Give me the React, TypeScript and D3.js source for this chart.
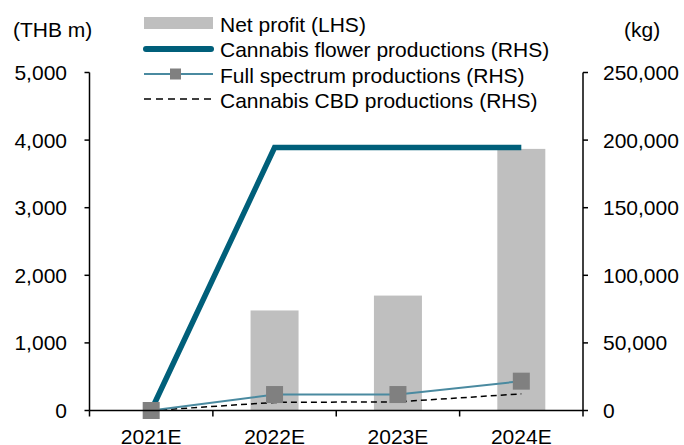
import * as d3 from 'd3';

const years = ['2021E', '2022E', '2023E', '2024E'];
const netProfit = [0, 1480, 1700, 3870];
const flower = [0, 194500, 194500, 194500];
const fullSpectrum = [0, 11800, 11800, 21700];
const cbd = [0, 6000, 6400, 12300];
const leftTicks = [0, 1000, 2000, 3000, 4000, 5000];
const rightTicks = [0, 50000, 100000, 150000, 200000, 250000];

const width = 684;
const height = 445;
const marginLeft = 89.5;
const marginRight = 101;
const marginTop = 72.5;
const marginBottom = 34.5;

const font = 'Liberation Sans, Arial, sans-serif';
const fmt = d3.format(',');

export default function App() {
  const x = d3
    .scaleBand<string>()
    .domain(years)
    .range([marginLeft, width - marginRight]);
  const yL = d3.scaleLinear([0, 5000], [height - marginBottom, marginTop]);
  const yR = d3.scaleLinear([0, 250000], [height - marginBottom, marginTop]);
  const cx = (d: string) => (x(d) ?? 0) + x.bandwidth() / 2;
  const barW = 48;

  const line = d3
    .line<number>()
    .x((_, i) => cx(years[i]))
    .y((d) => yR(d));

  const y0 = height - marginBottom;
  const xR = width - marginRight;

  return (
    <svg
      width={width}
      height={height}
      style={{ position: 'absolute', left: 0, top: 0, background: '#fff' }}
      fontFamily={font}
      fontSize={21}
      fill='#000'
    >
      {/* bars */}
      {netProfit.map((v, i) => (
        <rect
          key={i}
          x={cx(years[i]) - barW / 2}
          y={yL(v)}
          width={barW}
          height={y0 - yL(v)}
          fill='#bfbfbf'
        />
      ))}

      {/* lines */}
      <path d={line(flower) ?? ''} fill='none' stroke='#005f7a' strokeWidth={5.5} />
      <path
        d={line(cbd) ?? ''}
        fill='none'
        stroke='#000'
        strokeWidth={1.5}
        strokeDasharray='6,4'
      />
      <path
        d={line(fullSpectrum) ?? ''}
        fill='none'
        stroke='#4a8aa0'
        strokeWidth={2}
      />
      {fullSpectrum.map((v, i) => (
        <rect
          key={i}
          x={cx(years[i]) - 8.5}
          y={yR(v) - 8.5}
          width={17}
          height={17}
          fill='#808080'
        />
      ))}

      {/* axes */}
      <g stroke='#000' strokeWidth={1.5}>
        <line x1={marginLeft} x2={marginLeft} y1={marginTop} y2={y0} />
        <line x1={xR} x2={xR} y1={marginTop} y2={y0 + 6} />
        <line x1={marginLeft} x2={xR} y1={y0} y2={y0} />
        {leftTicks.map((t) => (
          <line key={t} x1={marginLeft - 5} x2={marginLeft} y1={yL(t)} y2={yL(t)} />
        ))}
        {rightTicks.map((t) => (
          <line key={t} x1={xR} x2={xR + 5} y1={yR(t)} y2={yR(t)} />
        ))}
        {years.map((d) => (
          <line key={d} x1={x(d)} x2={x(d)} y1={y0} y2={y0 + 6} />
        ))}
      </g>
      {leftTicks.map((t) => (
        <text key={t} x={67} y={yL(t)} dy='0.36em' textAnchor='end'>
          {fmt(t)}
        </text>
      ))}
      {rightTicks.map((t) => (
        <text key={t} x={603} y={yR(t)} dy='0.36em'>
          {fmt(t)}
        </text>
      ))}
      {years.map((d) => (
        <text key={d} x={cx(d)} y={444} textAnchor='middle'>
          {d}
        </text>
      ))}
      <text x={13} y={37}>(THB m)</text>
      <text x={624} y={37}>(kg)</text>

      {/* legend */}
      <g>
        <rect x={144} y={17} width={69} height={12} fill='#bfbfbf' />
        <text x={220} y={32}>Net profit (LHS)</text>
        <line x1={146} x2={211} y1={49} y2={49} stroke='#005f7a' strokeWidth={6} strokeLinecap='round' />
        <text x={220} y={57}>Cannabis flower productions (RHS)</text>
        <line x1={144} x2={213} y1={74} y2={74} stroke='#4a8aa0' strokeWidth={2} />
        <rect x={170} y={68.5} width={11} height={11} fill='#808080' />
        <text x={220} y={83}>Full spectrum productions (RHS)</text>
        <line x1={144} x2={213} y1={99} y2={99} stroke='#000' strokeWidth={1.5} strokeDasharray='7,5' />
        <text x={220} y={108}>Cannabis CBD productions (RHS)</text>
      </g>
    </svg>
  );
}
